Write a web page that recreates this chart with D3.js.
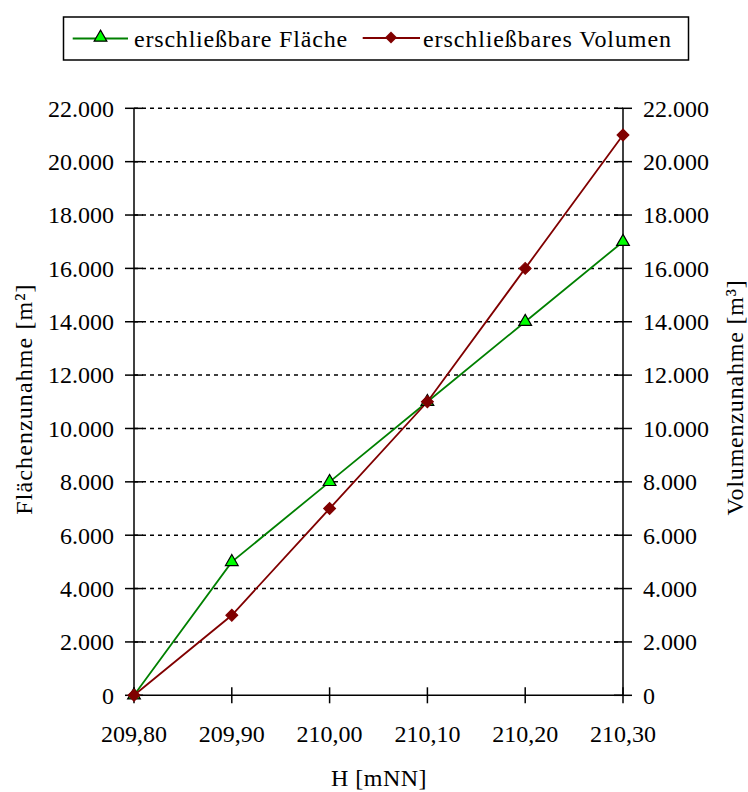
<!DOCTYPE html>
<html><head><meta charset="utf-8">
<script src="https://cdn.jsdelivr.net/npm/d3@7"></script>
<style>body{margin:0;background:#fff}svg{display:block}</style>
</head><body>
<script>
const heights = [209.80, 209.90, 210.00, 210.10, 210.20, 210.30];
const flaeche = [0, 5000, 8000, 11000, 14000, 17000];
const volumen = [0, 3000, 7000, 11000, 16000, 21000];
const yTicks = [0,2000,4000,6000,8000,10000,12000,14000,16000,18000,20000,22000];
const seriesNames = ["erschließbare Fläche", "erschließbares Volumen"];

const W = 748, H = 792;
const L = 134, R = 623, T = 108.3, B = 695.3;
const FONT = "'Liberation Serif', 'Times New Roman', serif";
const svg = d3.select("body").append("svg").attr("width", W).attr("height", H)
  .attr("font-family", FONT);
const x = d3.scaleLinear().domain([209.8, 210.3]).range([L, R]);
const y = d3.scaleLinear().domain([0, 22000]).range([B, T]);
const fmtY = d => d3.format(",")(d).replace(/,/g, ".");
const fmtX = d => d.toFixed(2).replace(".", ",");
const fs = 24;

// grid
svg.append("g").selectAll("line").data(yTicks.filter(d => d > 0)).join("line")
  .attr("x1", L).attr("x2", R).attr("y1", d => y(d)).attr("y2", d => y(d))
  .attr("stroke", "#000").attr("stroke-width", 1.5).attr("stroke-dasharray", "4,4");

// axes lines
svg.append("line").attr("x1", L).attr("x2", L).attr("y1", T).attr("y2", B).attr("stroke", "#000").attr("stroke-width", 1.5);
svg.append("line").attr("x1", R).attr("x2", R).attr("y1", T).attr("y2", B).attr("stroke", "#000").attr("stroke-width", 1.5);
svg.append("line").attr("x1", L).attr("x2", R).attr("y1", B).attr("y2", B).attr("stroke", "#000").attr("stroke-width", 1.5);

// y ticks both sides
[L, R].forEach((ax, i) => {
  const g = svg.append("g");
  g.selectAll("line").data(yTicks).join("line")
    .attr("x1", ax - 9).attr("x2", ax + 9).attr("y1", d => y(d)).attr("y2", d => y(d))
    .attr("stroke", "#000").attr("stroke-width", 1.5);
  g.selectAll("text").data(yTicks).join("text")
    .attr("x", i === 0 ? ax - 20 : ax + 20).attr("y", d => y(d) + 8.3)
    .attr("text-anchor", i === 0 ? "end" : "start").attr("font-size", fs).text(fmtY);
});

// x ticks
const gx = svg.append("g");
gx.selectAll("line").data(heights).join("line")
  .attr("x1", d => x(d)).attr("x2", d => x(d)).attr("y1", B - 8).attr("y2", B + 8)
  .attr("stroke", "#000").attr("stroke-width", 1.5);
gx.selectAll("text").data(heights).join("text")
  .attr("x", d => x(d)).attr("y", B + 46.4).attr("text-anchor", "middle").attr("font-size", fs).text(fmtX);

// axis titles
svg.append("text").attr("x", 379).attr("y", 786).attr("text-anchor", "middle").attr("font-size", fs)
  .attr("letter-spacing", 0.5).text("H [mNN]");
svg.append("text").attr("transform", `translate(31.5,399) rotate(-90)`).attr("text-anchor", "middle").attr("font-size", fs)
  .attr("letter-spacing", 1.1).text("Flächenzunahme [m²]");
svg.append("text").attr("transform", `translate(743,397.5) rotate(-90)`).attr("text-anchor", "middle").attr("font-size", fs)
  .attr("letter-spacing", 0.8).text("Volumenzunahme [m³]");

// series
const line = d3.line().x((d, i) => x(heights[i])).y(d => y(d));
svg.append("path").datum(flaeche).attr("d", line).attr("fill", "none").attr("stroke", "#008000").attr("stroke-width", 1.8);
svg.append("path").datum(volumen).attr("d", line).attr("fill", "none").attr("stroke", "#800000").attr("stroke-width", 1.8);

const tri = d3.symbol().type(d3.symbolTriangle).size(70);
const dia = d3.symbol().type(d3.symbolSquare).size(72);
svg.append("g").selectAll("path").data(flaeche).join("path")
  .attr("transform", (d, i) => `translate(${x(heights[i])},${y(d)})`).attr("d", tri)
  .attr("fill", "#00ff00").attr("stroke", "#000").attr("stroke-width", 1.2);
svg.append("g").selectAll("path").data(volumen).join("path")
  .attr("transform", (d, i) => `translate(${x(heights[i])},${y(d)}) rotate(45)`).attr("d", dia)
  .attr("fill", "#800000").attr("stroke", "#800000").attr("stroke-width", 1);

// legend
const lg = svg.append("g");
lg.append("rect").attr("x", 63.5).attr("y", 17).attr("width", 625).attr("height", 43)
  .attr("fill", "#fff").attr("stroke", "#000").attr("stroke-width", 1.5);
lg.append("line").attr("x1", 72.7).attr("x2", 128).attr("y1", 38.5).attr("y2", 38.5).attr("stroke", "#008000").attr("stroke-width", 1.8);
lg.append("path").attr("transform", "translate(100.5,37.5)").attr("d", tri).attr("fill", "#00ff00").attr("stroke", "#000").attr("stroke-width", 1.2);
lg.append("text").attr("x", 134).attr("y", 46.7).attr("font-size", fs).attr("letter-spacing", 0.8).text(seriesNames[0]);
lg.append("line").attr("x1", 362.7).attr("x2", 420).attr("y1", 38).attr("y2", 38).attr("stroke", "#800000").attr("stroke-width", 1.8);
lg.append("path").attr("transform", "translate(391,37.5) rotate(45)").attr("d", dia).attr("fill", "#800000");
lg.append("text").attr("x", 423).attr("y", 46.7).attr("font-size", fs).attr("letter-spacing", 0.9).text(seriesNames[1]);
</script>
</body></html>
